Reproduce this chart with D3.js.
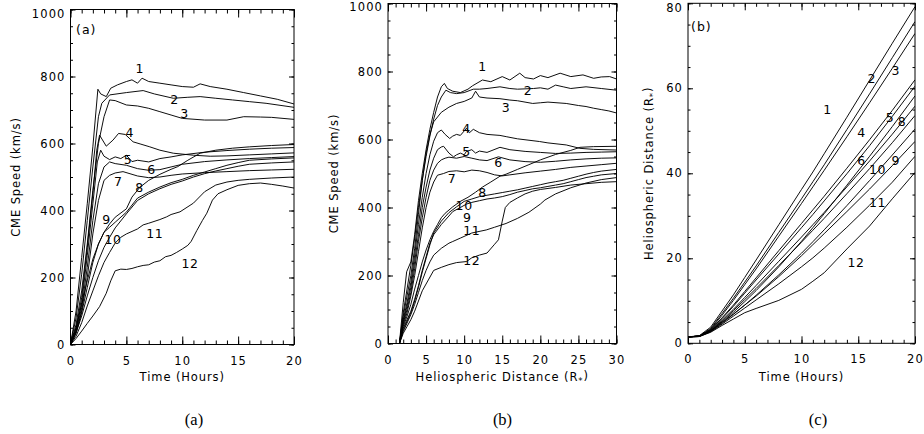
<!DOCTYPE html>
<html><head><meta charset="utf-8">
<script src="https://cdn.jsdelivr.net/npm/d3@7"></script>
<style>
body{margin:0;background:#fff}
svg{display:block}
</style>
</head><body>
<svg id="chart" width="924" height="434"></svg>
<script>
// ---------------- DATA ----------------
const curveNames = ["1","2","3","4","5","6","7","8","9","10","11","12"];

// Panel (a): CME speed (km/s) vs time (hours), [t, v]
const speedVsTime = [
  [[0,0],[0.5,100],[1,260],[1.5,420],[2,590],[2.45,762],[2.7,748],[3.2,740],[3.6,765],[4.2,775],[5,785],[5.5,790],[6,780],[6.4,795],[7,785],[8,780],[9,775],[10,770],[11,768],[11.6,778],[12.5,770],[14,762],[15.5,752],[17,742],[18.5,732],[20,718]],
  [[0,0],[0.5,80],[1,210],[1.5,370],[2,530],[2.5,680],[2.8,720],[3.5,745],[5,752],[6.5,758],[7.5,748],[9.2,735],[10.5,738],[11.6,740],[13,735],[14.5,730],[16,725],[17.5,720],[20,708]],
  [[0,0],[0.5,60],[1,160],[1.5,300],[2,460],[2.5,600],[3,680],[3.5,730],[4,728],[5,715],[6,712],[7,705],[8,695],[9,685],[10,675],[12,670],[14,670],[15.5,680],[17,679],[18,678],[20,672]],
  [[0,0],[0.5,50],[1,140],[1.5,290],[2,450],[2.35,580],[2.6,625],[3.2,592],[3.8,610],[4.3,630],[4.9,627],[5.6,605],[6.3,598],[7.1,590],[8,580],[9.2,571],[11,565],[12.5,562],[14,563],[16,566],[18,569],[20,572]],
  [[0,0],[0.5,45],[1,125],[1.5,265],[2,420],[2.4,545],[2.7,580],[3,562],[3.5,552],[4,560],[4.5,555],[5,565],[5.5,546],[6,550],[7,545],[8,555],[9,560],[10,566],[12,574],[14,579],[16,583],[18,586],[20,588]],
  [[0,0],[0.5,40],[1,110],[1.5,230],[2,370],[2.5,480],[3,530],[3.5,545],[4,540],[5,535],[6,525],[7,520],[8,522],[9,530],[10,538],[12,546],[14,551],[16,555],[18,558],[20,561]],
  [[0,0],[0.5,35],[1,100],[1.5,200],[2,330],[2.5,430],[3,490],[3.5,505],[4,512],[4.7,516],[6,503],[7,498],[8,500],[9,505],[10,509],[12,513],[14,516],[16,519],[18,521],[20,523]],
  [[0,0],[0.5,35],[1,95],[1.5,170],[2,245],[2.5,300],[3,335],[3.5,360],[4,380],[5,405],[5.5,440],[6.2,469],[7,490],[8,508],[9,523],[9.6,531],[10.5,550],[11.6,571],[13,580],[14.5,586],[16,590],[18,594],[20,597]],
  [[0,0],[0.5,50],[1,120],[1.5,190],[2,255],[2.5,300],[3,335],[3.5,350],[4,365],[5,395],[6,437],[7,455],[8,470],[9,483],[10,493],[11,505],[12,515],[13,525],[14,535],[15,543],[16,550],[18,554],[20,557]],
  [[0,0],[0.5,35],[1,85],[1.5,145],[2,200],[2.5,250],[3,290],[3.5,320],[4,348],[5,390],[6,430],[7,450],[8,465],[9,478],[10,488],[11,500],[12,510],[13,518],[14,525],[15,532],[16,538],[18,542],[20,545]],
  [[0,0],[0.5,25],[1,65],[1.5,115],[2,160],[2.5,205],[3,245],[3.5,275],[4,303],[4.5,320],[5,330],[6,345],[6.5,357],[7,362],[8,373],[8.6,381],[9,388],[9.8,396],[11,422],[12,456],[13,476],[14,485],[15,490],[16,493],[18,497],[20,500]],
  [[0,0],[0.5,18],[1,40],[1.5,63],[2,85],[2.6,113],[3.2,153],[3.6,190],[4,220],[4.5,225],[5,224],[5.5,227],[6,232],[6.5,236],[7,238],[7.5,246],[8,250],[8.5,262],[9,266],[9.5,275],[10,285],[10.5,296],[10.8,308],[11.3,340],[11.8,370],[12.2,392],[12.7,431],[13.2,450],[14,462],[15,475],[16,480],[17,482],[18,478],[19,473],[20,467]]
];

// Panel (b): CME speed (km/s) vs heliospheric distance (Rs), [d, v]
const speedVsDistance = [
  [[1.5,0],[2,120],[2.45,211],[3,240],[3.5,320],[4,420],[4.5,500],[5,570],[5.5,630],[6,680],[6.5,725],[7,755],[7.4,765],[7.8,750],[8.5,742],[9.5,738],[10.5,748],[11.1,758],[12.4,775],[13.5,770],[15,785],[16,775],[17.3,795],[18,782],[19.1,778],[20,788],[21,782],[22.6,795],[24,785],[25.6,790],[27,780],[28,784],[29.1,785],[30,778]],
  [[1.5,0],[2,90],[2.5,160],[3,230],[3.5,310],[4,400],[4.5,480],[5,550],[5.5,610],[6,660],[6.5,700],[7,725],[7.6,745],[8.2,738],[9,735],[10,738],[11.2,748],[12,748],[13,750],[14.7,755],[16,750],[17,748],[19.1,750],[20,752],[21,748],[22,760],[23,755],[24,750],[26,755],[28,750],[30,745]],
  [[1.5,0],[2,80],[2.5,140],[3,200],[3.5,280],[4,380],[4.5,480],[5,560],[5.5,615],[6,652],[7,680],[8,695],[9,706],[10,712],[11,722],[11.5,742],[12,725],[13,722],[14.7,720],[16,716],[17,714],[19,706],[20,708],[21,710],[23.4,706],[25,700],[26,697],[27,692],[28,688],[29,684],[30,678]],
  [[1.5,0],[2,70],[2.5,120],[3,180],[3.5,260],[4,350],[4.5,430],[5,500],[5.5,555],[6,595],[6.5,620],[7,628],[7.5,615],[8.1,603],[8.5,610],[9,615],[9.5,612],[10,625],[10.3,633],[10.7,620],[11.2,630],[12,620],[13,615],[14.7,612],[15.6,608],[17,602],[19.9,594],[21,590],[23.4,584],[25.2,574],[27,571],[30,569]],
  [[1.5,0],[2,65],[2.5,110],[3,165],[3.5,240],[4,320],[4.5,400],[5,460],[5.5,510],[6,545],[6.5,570],[7,578],[7.3,580],[8,560],[8.6,549],[9,555],[9.5,560],[10,555],[10.3,565],[11,570],[11.5,560],[12,566],[13,562],[14.7,577],[16,570],[18,565],[20,562],[22,559],[24,560],[26,562],[28,563],[30,564]],
  [[1.5,0],[2,60],[2.5,100],[3,150],[3.5,220],[4,300],[4.5,370],[5,430],[5.5,480],[6,510],[6.5,530],[7,540],[7.5,545],[8,548],[9,545],[10,550],[11,545],[12,540],[13,538],[14.5,549],[16,540],[18,535],[20,533],[22,536],[24,540],[26,543],[28,545],[30,546]],
  [[1.5,0],[2,55],[2.5,90],[3,140],[3.5,200],[4,270],[4.5,340],[5,400],[5.5,445],[6,475],[6.5,495],[7.3,500],[8,506],[9,508],[10,505],[11,510],[12,508],[13,503],[14,496],[15,493],[16,496],[18,502],[20,507],[22,512],[24,518],[26,522],[28,526],[30,530]],
  [[1.5,0],[2,50],[2.5,80],[3,115],[3.5,160],[4,200],[4.5,240],[5,275],[5.5,305],[6,330],[6.5,350],[7,370],[7.5,383],[8.5,402],[9.5,418],[10.5,430],[11.5,445],[12.4,460],[13.5,475],[14.7,492],[15.5,498],[17,512],[18.5,526],[20,540],[22,556],[24,568],[25.2,577],[27,579],[30,580]],
  [[1.5,0],[2,45],[2.5,70],[3,95],[3.5,130],[4,170],[4.5,215],[5,255],[5.5,295],[6,320],[7,350],[8,375],[8.5,388],[9.5,400],[10.3,410],[11,415],[12,420],[13,425],[14,428],[15,432],[16,438],[17,445],[18,450],[19,455],[20,458],[21,462],[22,466],[23,470],[24,476],[25,482],[26,488],[27,492],[28,496],[30,500]],
  [[1.5,0],[2,40],[2.5,65],[3,90],[3.5,125],[4,165],[4.5,210],[5,250],[5.5,290],[6,325],[7,360],[8,385],[9,402],[10,418],[11,425],[12,432],[13,436],[14,440],[15,444],[16,448],[17,452],[18,457],[19,462],[20,467],[21,472],[22,476],[23,480],[24,486],[25,492],[26,498],[27,503],[28,507],[30,512]],
  [[1.5,0],[2,35],[2.5,60],[3,85],[3.5,115],[4,150],[4.5,185],[5,215],[5.5,240],[6,260],[7,280],[8,295],[8.5,300],[9.5,310],[11,325],[12.9,334],[14,342],[15.5,353],[17,368],[18.5,386],[20,410],[20.6,422],[22,440],[24,458],[26,472],[28,482],[30,488]],
  [[1.5,0],[2,30],[2.5,50],[3,70],[3.5,95],[4,125],[4.5,155],[5.3,187],[6,215],[7,224],[8,232],[9,238],[10.3,241],[11,252],[12,260],[13,266],[14,292],[14.5,305],[15,360],[15.4,400],[16,415],[17,428],[18,440],[19,448],[20,453],[22,459],[24,466],[26,470],[28,474],[30,476]]
];

// Panel (c): heliospheric distance (Rs) vs time (hours)
const hoursC = [0,1,2,3,4,5,6,8,10,11,12,14,16,18,20];
const distanceVsTime = [
  [1.5,1.8,3.8,7.6,11.4,15.5,19.6,27.9,36.2,40.3,44.6,53.2,61.9,70.6,79.2],
  [1.5,1.7,3.5,7.0,10.6,14.4,18.2,26.1,34.0,38.0,42.0,50.3,58.7,67.2,75.7],
  [1.5,1.7,3.3,6.6,10.1,13.8,17.5,25.2,32.9,36.8,40.7,48.6,56.6,64.7,72.9],
  [1.5,1.7,3.2,6.0,9.0,12.2,15.4,21.8,28.2,31.4,34.6,41.2,47.9,54.8,62.0],
  [1.5,1.7,3.1,5.8,8.7,11.8,14.9,21.0,27.2,30.3,33.5,39.9,46.5,53.4,60.5],
  [1.5,1.7,3.0,5.4,8.0,10.8,13.6,19.3,25.0,27.9,30.8,36.8,42.9,49.2,55.8],
  [1.5,1.7,2.9,5.2,7.7,10.3,12.9,18.3,23.8,26.6,29.4,35.2,41.1,47.2,53.6],
  [1.5,1.7,2.9,5.0,7.3,9.8,12.4,18.0,24.0,27.2,30.5,37.2,44.0,51.0,58.2],
  [1.5,1.6,2.9,4.9,6.9,9.0,11.1,15.7,20.6,23.2,25.8,31.0,36.3,41.8,47.5],
  [1.5,1.6,2.8,4.7,6.8,9.0,11.3,16.1,21.2,23.9,26.7,32.4,38.3,44.3,50.4],
  [1.5,1.6,2.7,4.5,6.4,8.3,10.2,14.0,18.0,20.1,22.4,27.3,32.5,37.9,44.0],
  [1.5,1.6,2.6,4.2,5.7,7.2,8.2,10.1,12.7,14.6,16.6,22.2,27.6,34.0,40.2]
];

// curve labels: [text, x, y] in data units
const labelsA = [["1",6.2,824],["2",9.3,730],["3",10.2,690],["4",5.3,632],["5",5.15,553],["6",7.25,521],["7",4.27,486],["8",6.18,469],["9",3.23,372],["10",3.8,314],["11",7.55,332],["12",10.7,242]];
const labelsB = [["1",12.4,814],["2",18.4,744],["3",15.5,695],["4",10.3,633],["5",10.3,564],["6",14.5,533],["7",8.4,486],["8",12.4,444],["10",10.0,406],["9",10.4,372],["11",11.0,332],["12",11.0,243]];
const labelsC = [["1",12.3,54.9],["2",16.2,62.2],["3",18.3,64.1],["4",15.3,49.5],["5",17.8,53.2],["8",18.85,52.3],["6",15.3,42.9],["10",16.7,41.0],["9",18.3,42.9],["11",16.7,33.2],["12",14.8,18.9]];

// tick labels
const timeTicks = [0,5,10,15,20];
const distTicks = [0,5,10,15,20,25,30];
const speedTicks = [0,200,400,600,800,1000];
const distYTicks = [0,20,40,60,80];

// ---------------- DRAW ----------------
const SANS = "DejaVu Sans, sans-serif";
const svg = d3.select("#chart");
svg.append("rect").attr("width",924).attr("height",434).attr("fill","#fff");
const defs = svg.append("defs");

function panel(cfg){
  const g = svg.append("g");
  const x = d3.scaleLinear(cfg.xDomain, cfg.xRange);
  const y = d3.scaleLinear(cfg.yDomain, cfg.yRange);
  const [x0,x1] = cfg.xRange, [yb,yt] = cfg.yRange;

  defs.append("clipPath").attr("id","clip"+cfg.id)
    .append("rect").attr("x",x0).attr("y",yt).attr("width",x1-x0).attr("height",yb-yt);

  // curves
  const line = d3.line().x(d=>x(d[0])).y(d=>y(d[1]));
  g.append("g").attr("clip-path",`url(#clip${cfg.id})`)
    .selectAll("path").data(cfg.series).join("path")
    .attr("d", line).attr("fill","none").attr("stroke","#000")
    .attr("stroke-width",0.95).attr("stroke-linejoin","round");

  // frame
  g.append("rect").attr("x",x0).attr("y",yt).attr("width",x1-x0).attr("height",yb-yt)
    .attr("fill","none").attr("stroke","#000").attr("stroke-width",1);

  const styleAxis = sel => {
    sel.attr("font-family",SANS).attr("font-size",11.5);
    sel.select(".domain").remove();
    sel.selectAll("line").attr("stroke","#000").attr("stroke-width",1);
    sel.selectAll("text").attr("letter-spacing","1.1px").attr("fill","#000");
  };
  const xMinor = d3.range(cfg.xDomain[0], cfg.xDomain[1]+1e-9, cfg.xMinorStep);
  const yMinor = d3.range(cfg.yDomain[0], cfg.yDomain[1]+1e-9, cfg.yMinorStep);

  // bottom
  g.append("g").attr("transform",`translate(0,${yb})`)
    .call(d3.axisBottom(x).tickValues(cfg.xTicks).tickSize(-cfg.xTickLen).tickPadding(12).tickFormat(d3.format("d")))
    .call(styleAxis);
  g.append("g").attr("transform",`translate(0,${yb})`)
    .call(d3.axisBottom(x).tickValues(xMinor).tickSize(-cfg.xTickLen/2).tickFormat(""))
    .call(styleAxis);
  // top
  g.append("g").attr("transform",`translate(0,${yt})`)
    .call(d3.axisTop(x).tickValues(cfg.xTicks).tickSize(-cfg.xTickLen).tickFormat(""))
    .call(styleAxis);
  g.append("g").attr("transform",`translate(0,${yt})`)
    .call(d3.axisTop(x).tickValues(xMinor).tickSize(-cfg.xTickLen/2).tickFormat(""))
    .call(styleAxis);
  // left
  const left = g.append("g").attr("transform",`translate(${x0},0)`)
    .call(d3.axisLeft(y).tickValues(cfg.yTicks).tickSize(-cfg.yTickLen).tickPadding(5).tickFormat(d3.format("d")))
    .call(styleAxis);
  // IDL keeps the top label inside the frame height: nudge it down
  const topVal = cfg.yTicks[cfg.yTicks.length-1];
  left.selectAll(".tick").filter(d=>d===topVal).select("text").attr("y",cfg.topNudge);
  g.append("g").attr("transform",`translate(${x0},0)`)
    .call(d3.axisLeft(y).tickValues(yMinor).tickSize(-cfg.yTickLen/2).tickFormat(""))
    .call(styleAxis);
  // right
  g.append("g").attr("transform",`translate(${x1},0)`)
    .call(d3.axisRight(y).tickValues(cfg.yTicks).tickSize(-cfg.yTickLen).tickFormat(""))
    .call(styleAxis);
  g.append("g").attr("transform",`translate(${x1},0)`)
    .call(d3.axisRight(y).tickValues(yMinor).tickSize(-cfg.yTickLen/2).tickFormat(""))
    .call(styleAxis);

  // curve labels
  g.append("g").selectAll("text").data(cfg.labels).join("text")
    .attr("x",d=>x(d[1])).attr("y",d=>y(d[2])).attr("dy","0.36em")
    .attr("text-anchor","middle").attr("font-family",SANS).attr("font-size",12.5)
    .attr("letter-spacing","0.6px")
    .text(d=>d[0]);

  // panel tag
  if(cfg.tag){
    g.append("text").attr("x",cfg.tagX).attr("y",cfg.tagYpx).attr("dy","0.36em")
      .attr("font-family",SANS).attr("font-size",12.5).attr("letter-spacing","1px").text(cfg.tag);
  }

  // x title
  const xt = g.append("text").attr("x",(x0+x1)/2).attr("y",377).attr("dy","0.36em")
    .attr("text-anchor","middle").attr("font-family",SANS).attr("font-size",11.5).attr("letter-spacing","0.9px");
  addTitle(xt, cfg.xTitle);
  // y title
  const yt2 = g.append("text").attr("transform",`translate(${cfg.yTitleX},${(yb+yt)/2}) rotate(-90)`)
    .attr("dy","0.36em").attr("text-anchor","middle").attr("font-family",SANS).attr("font-size",11.5).attr("letter-spacing","0.9px");
  addTitle(yt2, cfg.yTitle);

  // caption
  svg.append("text").attr("x",cfg.capX).attr("y",419).attr("dy","0.35em").attr("text-anchor","middle")
    .attr("font-family","Liberation Serif, Times New Roman, serif").attr("font-size",16.5).attr("fill","#000").text(cfg.caption);
}

function addTitle(sel, title){
  if(title.indexOf("(R*)")>=0){
    sel.append("tspan").text(title.replace("(R*)","(R"));
    sel.append("tspan").attr("font-size",8.5).attr("dy","0.3em").text("*");
    sel.append("tspan").attr("dy","-0.3em").text(")");
  } else sel.text(title);
}

panel({id:"a", xDomain:[0,20], xRange:[70.5,294], yDomain:[0,1000], yRange:[344.5,9.5],
  series:speedVsTime, xTicks:timeTicks, yTicks:speedTicks, xMinorStep:1, yMinorStep:50,
  xTickLen:8, yTickLen:5, labels:labelsA, tag:"(a)", tagX:76, tagYpx:29, topNudge:4.5,
  xTitle:"Time (Hours)", yTitle:"CME Speed (km/s)", yTitleX:15.5, caption:"(a)", capX:194});

panel({id:"b", xDomain:[0,30], xRange:[388,616.5], yDomain:[0,1000], yRange:[343.5,3.5],
  series:speedVsDistance, xTicks:distTicks, yTicks:speedTicks, xMinorStep:1, yMinorStep:50,
  xTickLen:8, yTickLen:5, labels:labelsB, tag:null, topNudge:3.5,
  xTitle:"Heliospheric Distance (R*)", yTitle:"CME Speed (km/s)", yTitleX:334, caption:"(b)", capX:502.5});

panel({id:"c", xDomain:[0,20], xRange:[688,915], yDomain:[0,80], yRange:[343.3,3.3],
  series:distanceVsTime.map(s=>s.map((r,i)=>[hoursC[i],r])), xTicks:timeTicks, yTicks:distYTicks, xMinorStep:1, yMinorStep:5,
  xTickLen:7, yTickLen:5, labels:labelsC, tag:"(b)", tagX:691, tagYpx:26, topNudge:4.2,
  xTitle:"Time (Hours)", yTitle:"Heliospheric Distance (R*)", yTitleX:649, caption:"(c)", capX:818});
</script>
</body></html>
